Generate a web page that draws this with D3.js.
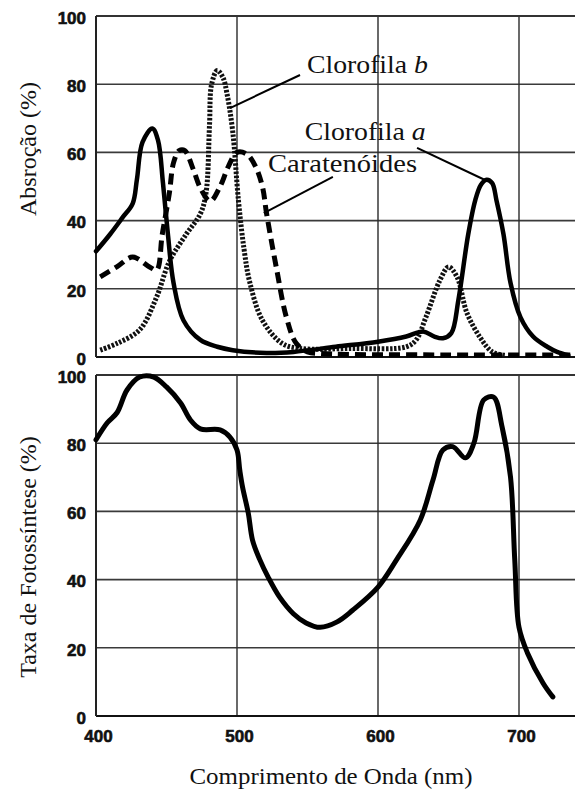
<!DOCTYPE html>
<html><head><meta charset="utf-8">
<script src="https://cdn.jsdelivr.net/npm/d3@7"></script>
<style>html,body{margin:0;padding:0;background:#fff;overflow:hidden}</style>
</head><body><svg id="c" width="575" height="793"></svg>
<script>
// ---- data ----
const xTicks = [400, 500, 600, 700];
const yTicks = [0, 20, 40, 60, 80, 100];

const chlA_nm  = [400,410,419,426,429,433,440,444,447.5,451,455,462,474,486,497,521,540,570,600,620,632,640,646,652,657,664,669,673,677,681,684,689,694,701,710,720,727,735];
const chlA_val = [31,36,41,45,52,63,67,63.5,51,36,21.7,10.8,5,3,2,1.2,1.5,3,4.5,6,7.5,6,5.5,7,16.7,36,46,50.5,52,51,46,36,21.7,11.7,6,3,1.5,0.5];

const chlB_nm  = [403,415,431,443,452,464,474,478,480.5,482,486,490,493,497,501,505,509,518,532,545,580,620,627,634,644,650,656,663,672,681,690];
const chlB_val = [2,4,8,17.6,28,36,42,48,68,80,84,82,77,66,46,31.6,22,10.8,4,2.5,2.5,3,5,11.7,22.6,26.4,23.5,13,6,1.5,0.5];

const car_nm  = [403,415,426,438,443,447,452,455,459,463,469,474,481,488,494,500,507,513,518,521,528,535,542,550,560,650,760];
const car_val = [23.5,26.5,29.3,26.4,25.5,36,48,57,60.5,60.5,55,49.6,45.7,50,56,60,59.5,56,50,42,26,11.7,4,1.5,1,0.6,0.6];

const photo_nm  = [400,408,415,422,431,441,450,460,467,474,488,495,500,502,504,508,511,516,522,530,540,549,559,571,582,600,613,630,639,646,653,662,668,675,682,688,694,697,700,706,717,724];
const photo_val = [81,86,89,95.6,99.4,99.4,96.5,91.8,86.8,84.2,83.9,81.8,78,72,67,59.5,51.6,46,40.8,35,30,27.3,26,27.6,31,37.8,45.7,57.5,69.2,78,79,75.7,80,92.7,93.5,84.8,70,45.7,26,18.5,9.7,5.6];

// annotations (in data units)
const labelNames = ["Clorofila ", "Clorofila ", "Caratenóides"];
const labelItalic = ["b", "a", ""];
const labelPos = [[549.6, 83.3], [548, 63.6], [522, 54.3]];
const labelLen = [121, 121, 149];
const leaderFrom = [[544.7, 82.7], [627.7, 61.3], [568, 52.8]];
const leaderTo   = [[495, 73], [675.9, 51.9], [519, 42.2]];

// ---- scales ----
const svg = d3.select("#c");
const x = d3.scaleLinear().domain([400, 700]).range([96, 519]);
const yTop = d3.scaleLinear().domain([0, 100]).range([357, 16]);
const yBot = d3.scaleLinear().domain([0, 100]).range([716, 375]);
const xRight = 600;

function panel(y, showX) {
  const g = svg.append("g");
  g.selectAll("line.h").data(yTicks.filter(v => v > 0 && v < 100)).join("line")
    .attr("x1", x(400)).attr("x2", xRight).attr("y1", d => y(d)).attr("y2", d => y(d))
    .attr("stroke", "#3a3a3a").attr("stroke-width", 1.6);
  g.selectAll("line.v").data(xTicks.filter(v => v > 400)).join("line")
    .attr("x1", d => x(d)).attr("x2", d => x(d)).attr("y1", y(0)).attr("y2", y(100))
    .attr("stroke", "#2a2a2a").attr("stroke-width", 1.4);
  g.append("line").attr("x1", x(400)).attr("x2", xRight).attr("y1", y(100)).attr("y2", y(100))
    .attr("stroke", "#333").attr("stroke-width", 2);
  g.append("line").attr("x1", x(400)).attr("x2", xRight).attr("y1", y(0)).attr("y2", y(0))
    .attr("stroke", "#111").attr("stroke-width", 2.2);
  g.append("line").attr("x1", x(400)).attr("x2", x(400)).attr("y1", y(0)).attr("y2", y(100))
    .attr("stroke", "#222").attr("stroke-width", 2);
  g.selectAll("text.yt").data(yTicks).join("text")
    .attr("x", 86).attr("y", d => y(d) + 1.5 + 6.2)
    .attr("text-anchor", "end")
    .attr("font-family", "Liberation Sans, Arial, sans-serif").attr("font-weight", "bold")
    .attr("font-size", 17).attr("fill", "#111").attr("stroke", "#111").attr("stroke-width", 0.6)
    .text(d => d);
  if (showX) {
    g.selectAll("text.xt").data(xTicks).join("text")
      .attr("x", d => x(d) + 2.5).attr("y", y(0) + 26)
      .attr("text-anchor", "middle")
      .attr("font-family", "Liberation Sans, Arial, sans-serif").attr("font-weight", "bold")
      .attr("font-size", 17).attr("fill", "#111").attr("stroke", "#111").attr("stroke-width", 0.6)
      .text(d => d);
  }
  return g;
}

panel(yTop, false);
panel(yBot, true);

function curve(nm, val, y, style) {
  const data = nm.map((d, i) => [d, val[i]]);
  const line = d3.line().x(d => x(d[0])).y(d => y(d[1])).curve(d3.curveCatmullRom.alpha(0.5));
  const p = svg.append("path").attr("d", line(data)).attr("fill", "none")
    .attr("stroke", "#000").attr("stroke-linejoin", "round");
  for (const k in style) p.attr(k, style[k]);
}

curve(chlB_nm, chlB_val, yTop, {"stroke-width": 5, "stroke-dasharray": "2.5,1.6", "stroke": "#111"});
curve(car_nm, car_val, yTop, {"stroke-width": 5, "stroke-dasharray": "11,6"});
curve(chlA_nm, chlA_val, yTop, {"stroke-width": 4.5, "stroke-linecap": "round"});
curve(photo_nm, photo_val, yBot, {"stroke-width": 5, "stroke-linecap": "round"});

svg.selectAll("line.lead").data(leaderFrom).join("line")
  .attr("x1", d => x(d[0])).attr("y1", d => yTop(d[1]))
  .attr("x2", (d, i) => x(leaderTo[i][0])).attr("y2", (d, i) => yTop(leaderTo[i][1]))
  .attr("stroke", "#000").attr("stroke-width", 2);

labelNames.forEach((name, i) => {
  const t = svg.append("text")
    .attr("x", x(labelPos[i][0])).attr("y", yTop(labelPos[i][1]))
    .attr("font-family", "Liberation Serif, Times New Roman, serif")
    .attr("font-size", 25).attr("fill", "#111")
    .attr("textLength", labelLen[i]).attr("lengthAdjust", "spacingAndGlyphs");
  t.append("tspan").text(name);
  if (labelItalic[i]) t.append("tspan").attr("font-style", "italic").text(labelItalic[i]);
});

const serif = "Liberation Serif, Times New Roman, serif";
svg.append("text").attr("transform", `translate(36,${149}) rotate(-90)`)
  .attr("text-anchor", "middle").attr("font-family", serif).attr("font-size", 24).attr("fill", "#111")
  .text("Absroção (%)");
svg.append("text").attr("transform", `translate(36,${557}) rotate(-90)`)
  .attr("text-anchor", "middle").attr("font-family", serif).attr("font-size", 24).attr("fill", "#111")
  .text("Taxa de Fotossíntese (%)");
svg.append("text").attr("x", 331).attr("y", 784)
  .attr("text-anchor", "middle").attr("font-family", serif).attr("font-size", 24).attr("fill", "#111")
  .attr("textLength", 283).attr("lengthAdjust", "spacingAndGlyphs")
  .text("Comprimento de Onda (nm)");
</script></body></html>
